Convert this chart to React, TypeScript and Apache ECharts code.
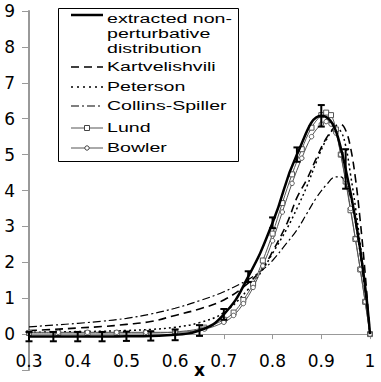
import React, { useEffect, useRef } from "react";
import * as echarts from "echarts";

// ---- data ----
const xTicks = [0.3, 0.4, 0.5, 0.6, 0.7, 0.8, 0.9, 1.0];

const extractedX = [0.3, 0.35, 0.4, 0.45, 0.5, 0.55, 0.6, 0.65, 0.7, 0.75, 0.8, 0.85, 0.9, 0.95, 1.0];
const extractedY = [-0.07, -0.07, -0.07, -0.07, -0.06, -0.05, -0.02, 0.1, 0.55, 1.6, 3.1, 5.0, 6.08, 4.6, 0];
const errHalf = [0.13, 0.13, 0.13, 0.13, 0.13, 0.13, 0.15, 0.15, 0.15, 0.15, 0.15, 0.2, 0.3, 0.55];

const modelX = [0.3, 0.35, 0.4, 0.45, 0.5, 0.55, 0.6, 0.65, 0.7, 0.75, 0.78, 0.8, 0.83, 0.85, 0.87, 0.89, 0.91, 0.93, 0.94, 0.95, 0.96, 0.97, 0.98, 0.99, 1.0];
const kartY = [0.1, 0.13, 0.17, 0.21, 0.27, 0.35, 0.52, 0.7, 0.95, 1.42, 1.85, 2.3, 3.1, 3.8, 4.3, 4.9, 5.45, 5.8, 5.84, 5.68, 5.2, 4.35, 3.15, 1.7, 0];
const petY = [0.05, 0.06, 0.07, 0.08, 0.1, 0.13, 0.19, 0.32, 0.6, 1.25, 1.8, 2.25, 2.95, 3.5, 4.1, 4.8, 5.4, 5.72, 5.65, 5.25, 4.45, 3.55, 2.5, 1.3, 0];
const csY = [0.2, 0.25, 0.3, 0.36, 0.44, 0.56, 0.72, 0.93, 1.18, 1.52, 1.8, 2.05, 2.55, 2.9, 3.35, 3.8, 4.15, 4.38, 4.38, 4.2, 3.8, 3.1, 2.2, 1.15, 0];

const mcX = [0.3, 0.36, 0.42, 0.48, 0.54, 0.6, 0.66, 0.7, 0.72, 0.74, 0.76, 0.78, 0.8, 0.82, 0.84, 0.86, 0.88, 0.9, 0.91, 0.92, 0.93, 0.94, 0.95, 0.96, 0.97, 0.98, 0.99, 1.0];
const lundY = [0.03, 0.03, 0.03, 0.03, 0.03, 0.06, 0.18, 0.4, 0.6, 0.95, 1.4, 2.05, 2.8, 3.65, 4.45, 5.15, 5.75, 6.1, 6.17, 6.1, 5.7, 5.0, 4.25, 3.45, 2.65, 1.8, 0.9, 0];
const bowlerY = [0.05, 0.05, 0.05, 0.05, 0.05, 0.05, 0.14, 0.33, 0.52, 0.85, 1.3, 1.9, 2.6, 3.4, 4.2, 4.9, 5.5, 5.85, 5.92, 5.85, 5.6, 5.0, 4.3, 3.5, 2.65, 1.8, 0.9, 0];

const legendNames = ["extracted non-\nperturbative\ndistribution", "Kartvelishvili", "Peterson", "Collins-Spiller", "Lund", "Bowler"];

const zip = (xs: number[], ys: number[]) => xs.map((x, i) => [x, ys[i]]);

export default function App() {
  const ref = useRef<HTMLDivElement>(null);
  useEffect(() => {
    if (!ref.current) return;
    const chart = echarts.init(ref.current, undefined, { renderer: "svg" });
    const tickFont = "DejaVu Sans";
    const legFont = "13.5px 'Liberation Sans', Arial, sans-serif";
    const lx1 = 71, lx2 = 103, tx = 107, sx = 1.45;
    const rows = [15, 67, 87, 106, 128, 148];
    const textRows = [18.3, 67, 87, 106, 128, 148];
    const legendGraphics: any[] = [
      { type: "rect", shape: { x: 58.5, y: 8.5, width: 180, height: 153 }, style: { fill: "#fff", stroke: "#000", lineWidth: 1 }, z: 10 },
      { type: "line", shape: { x1: lx1, y1: rows[0], x2: lx2, y2: rows[0] }, style: { stroke: "#000", lineWidth: 2.5 }, z: 11 },
      { type: "line", shape: { x1: lx1, y1: rows[1], x2: lx2, y2: rows[1] }, style: { stroke: "#000", lineWidth: 1.5, lineDash: [8, 5] }, z: 11 },
      { type: "line", shape: { x1: lx1, y1: rows[2], x2: lx2, y2: rows[2] }, style: { stroke: "#000", lineWidth: 1.5, lineDash: [2, 4] }, z: 11 },
      { type: "line", shape: { x1: lx1, y1: rows[3], x2: lx2, y2: rows[3] }, style: { stroke: "#000", lineWidth: 1.2, lineDash: [8, 3, 2, 3] }, z: 11 },
      { type: "line", shape: { x1: lx1, y1: rows[4], x2: lx2, y2: rows[4] }, style: { stroke: "#555", lineWidth: 1 }, z: 11 },
      { type: "rect", shape: { x: 84.5, y: rows[4] - 2.5, width: 5, height: 5 }, style: { fill: "#fff", stroke: "#444", lineWidth: 1 }, z: 12 },
      { type: "line", shape: { x1: lx1, y1: rows[5], x2: lx2, y2: rows[5] }, style: { stroke: "#555", lineWidth: 1 }, z: 11 },
      { type: "circle", shape: { cx: 87, cy: rows[5], r: 2.2 }, style: { fill: "#fff", stroke: "#444", lineWidth: 1 }, z: 12 },
    ];
    const firstLines = legendNames[0].split("\n");
    firstLines.forEach((t, i) => {
      legendGraphics.push({ type: "text", x: tx, y: textRows[0] + i * 15, scaleX: sx, z: 12, style: { text: t, font: legFont, fill: "#000", verticalAlign: "middle", align: "left" } });
    });
    legendNames.slice(1).forEach((t, i) => {
      legendGraphics.push({ type: "text", x: tx, y: textRows[i + 1], scaleX: sx, z: 12, style: { text: t, font: legFont, fill: "#000", verticalAlign: "middle", align: "left" } });
    });

    const gridTop = 11, gridBottomPx = 370;
    const yMin = -1, yMax = 9;
    const zeroOffset = ((0 - yMin) / (yMax - yMin)) * (gridBottomPx - gridTop);

    const option: any = {
      animation: false,
      backgroundColor: "#fff",
      grid: { left: 29, right: 11, top: gridTop, bottom: 382 - gridBottomPx, containLabel: false, outerBoundsMode: "none" },
      xAxis: {
        type: "value",
        min: 0.3,
        max: 1,
        interval: 0.1,
        position: "bottom",
        offset: -zeroOffset,
        name: "x",
        nameLocation: "middle",
        nameGap: 27,
        nameMoveOverlap: false,
        nameTextStyle: { fontFamily: tickFont, fontWeight: "bold", fontSize: 17, color: "#000" },
        axisLine: { onZero: false, lineStyle: { color: "#999", width: 1 } },
        axisTick: { show: true, length: 5, lineStyle: { color: "#999" } },
        splitLine: { show: false },
        axisLabel: {
          margin: 18,
          fontFamily: tickFont,
          fontSize: 17,
          color: "#000",
          formatter: (v: number) => {
            const t = xTicks.find((k) => Math.abs(k - v) < 1e-6);
            if (t === undefined) return "";
            return t === 1 ? "1" : t.toFixed(1);
          },
        },
      },
      yAxis: {
        type: "value",
        min: yMin,
        max: yMax,
        interval: 1,
        axisLine: { show: true, lineStyle: { color: "#999", width: 2 } },
        axisTick: { show: true, length: 7, lineStyle: { color: "#999" } },
        splitLine: { show: false },
        axisLabel: {
          margin: 14,
          fontFamily: tickFont,
          fontSize: 17,
          color: "#000",
          formatter: (v: number) => (v < -0.5 ? "" : String(Math.round(v))),
        },
      },
      graphic: legendGraphics,
      series: [
        {
          type: "line", name: "Collins-Spiller", data: zip(modelX, csY), smooth: 0.4, symbol: "none",
          lineStyle: { color: "#000", width: 1.2, type: [8, 3, 2, 3] }, z: 2,
        },
        {
          type: "line", name: "Peterson", data: zip(modelX, petY), smooth: 0.4, symbol: "none",
          lineStyle: { color: "#000", width: 1.5, type: [2, 3] }, z: 2,
        },
        {
          type: "line", name: "Kartvelishvili", data: zip(modelX, kartY), smooth: 0.4, symbol: "none",
          lineStyle: { color: "#000", width: 1.6, type: [8, 5] }, z: 2,
        },
        {
          type: "line", name: "Lund", data: zip(mcX, lundY), smooth: 0.4, symbol: "rect", symbolSize: 5,
          itemStyle: { color: "#fff", borderColor: "#555", borderWidth: 1 },
          lineStyle: { color: "#555", width: 1 }, z: 3,
        },
        {
          type: "line", name: "Bowler", data: zip(mcX, bowlerY), smooth: 0.4, symbol: "circle", symbolSize: 4.5,
          itemStyle: { color: "#fff", borderColor: "#555", borderWidth: 1 },
          lineStyle: { color: "#555", width: 1 }, z: 3,
        },
        {
          type: "line", name: "extracted", data: zip(extractedX, extractedY), smooth: 0.5, symbol: "none",
          lineStyle: { color: "#000", width: 2.5 }, z: 5,
        },
        {
          type: "custom", name: "errors", z: 6,
          data: extractedX.slice(0, errHalf.length).map((x, i) => [x, extractedY[i], errHalf[i]]),
          renderItem: (params: any, api: any) => {
            const x = api.value(0), y = api.value(1), e = api.value(2);
            const top = api.coord([x, y + e]);
            const bot = api.coord([x, y - e]);
            const w = 3.5;
            const st = { stroke: "#000", lineWidth: 2 };
            return {
              type: "group",
              children: [
                { type: "line", shape: { x1: top[0], y1: top[1], x2: bot[0], y2: bot[1] }, style: st },
                { type: "line", shape: { x1: top[0] - w, y1: top[1], x2: top[0] + w, y2: top[1] }, style: st },
                { type: "line", shape: { x1: bot[0] - w, y1: bot[1], x2: bot[0] + w, y2: bot[1] }, style: st },
              ],
            };
          },
        },
      ],
    };
    chart.setOption(option);
    return () => chart.dispose();
  }, []);
  return <div ref={ref} style={{ position: "fixed", left: 0, top: 0, width: 381, height: 382, background: "#fff" }} />;
}
